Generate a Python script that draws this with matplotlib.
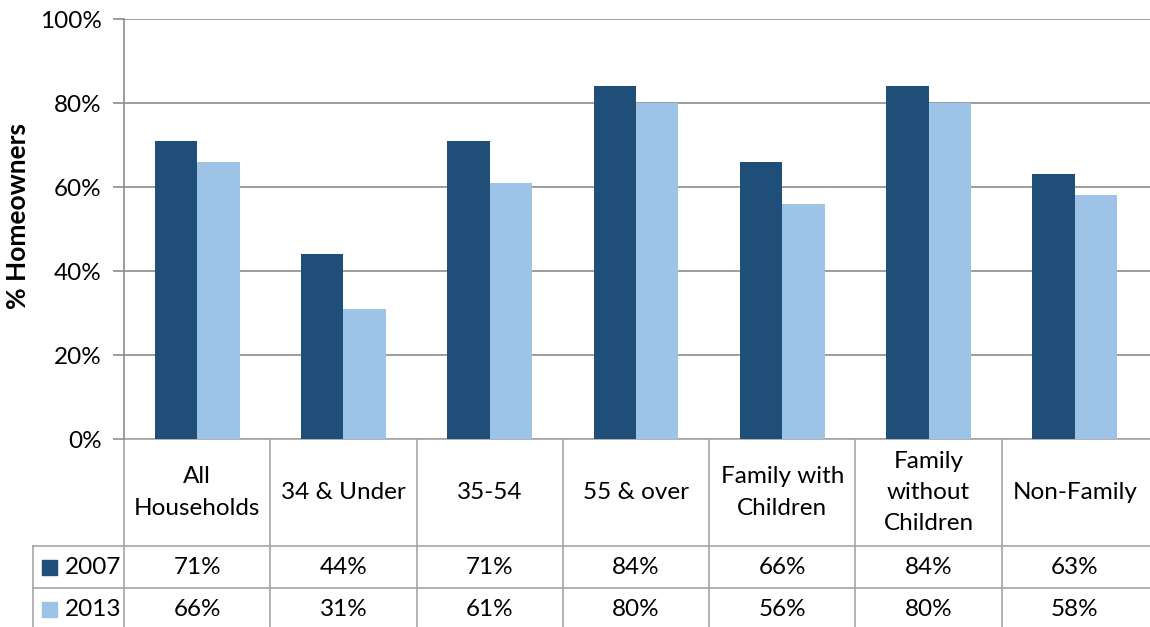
import matplotlib.pyplot as plt
import numpy as np
from matplotlib.lines import Line2D
from matplotlib.patches import Rectangle

plt.rcParams['font.family'] = ['Lato', 'DejaVu Sans']

categories = ["All\nHouseholds", "34 & Under", "35-54", "55 & over",
              "Family with\nChildren", "Family\nwithout\nChildren", "Non-Family"]
series_names = ["2007", "2013"]
values_2007 = [71, 44, 71, 84, 66, 84, 63]
values_2013 = [66, 31, 61, 80, 56, 80, 58]
yticks = [0, 20, 40, 60, 80, 100]

dark = "#1F4E79"
light = "#9DC3E6"
grid_col = "#8C8C8C"
table_col = "#A6A6A6"
fs = 17.5

fig = plt.figure(figsize=(11.5, 6.27), dpi=100)
W, H = 1150, 627
ax = fig.add_axes([124 / W, 1 - 439 / H, 1026 / W, 420 / H])

x = np.arange(len(categories))
bw = 0.29
ax.bar(x - bw / 2, values_2007, bw, color=dark, zorder=3)
ax.bar(x + bw / 2, values_2013, bw, color=light, zorder=3)

ax.set_xlim(-0.5, len(categories) - 0.5 + 2 / 146)
ax.set_ylim(0, 100)
ax.set_yticks(yticks)
ax.set_yticklabels([f"{t}%" for t in yticks], fontsize=fs)
ax.yaxis.grid(True, color=grid_col, linewidth=1.2, zorder=0)
ax.tick_params(axis="y", length=8, width=1.2, color=grid_col, pad=8)
ax.set_xticks([])
for side in ["top", "right", "bottom"]:
    ax.spines[side].set_visible(False)
ax.spines["left"].set_color(grid_col)
ax.spines["left"].set_linewidth(1.2)
ax.set_ylabel("% Homeowners", fontsize=19, fontweight="bold")
ax.yaxis.set_label_coords(-0.092, 0.53)

# data table under the axis
tr = ax.get_xaxis_transform()
row_h = 42 / 420
head_h = 107 / 420
y_head = -head_h
y_r1 = y_head - row_h
y_r2 = y_r1 - row_h
label_left = -0.5 - 91 / 146.3
right = len(categories) - 0.5 + 2 / 146

def hline(x0, x1, y):
    ax.add_line(Line2D([x0, x1], [y, y], transform=tr, color=table_col,
                       lw=1.2, clip_on=False))

def vline(xv, y0, y1):
    ax.add_line(Line2D([xv, xv], [y0, y1], transform=tr, color=table_col,
                       lw=1.2, clip_on=False))

# axis baseline with the 0% tick
hline(-0.5 - 8 / 146.3, right, 0)
hline(label_left, right, y_head)
hline(label_left, right, y_r1)
for b in np.arange(len(categories)) + 0.5:
    if b < len(categories) - 0.5:
        vline(b, 0, y_r2 - 0.05)
vline(-0.5, 0, y_r2 - 0.05)
vline(label_left, y_head, y_r2 - 0.05)

for i, cat in enumerate(categories):
    ax.text(i, y_head / 2, cat, transform=tr, ha="center", va="center",
            fontsize=fs, linespacing=1.6, clip_on=False)

for vals, y0, col, name in [(values_2007, y_head, dark, series_names[0]),
                            (values_2013, y_r1, light, series_names[1])]:
    yc = y0 - row_h / 2
    for i, v in enumerate(vals):
        ax.text(i, yc, f"{v}%", transform=tr, ha="center", va="center",
                fontsize=fs, clip_on=False)
    ax.add_patch(Rectangle((label_left + 9 / 146.3, yc - 7.5 / 420),
                           15 / 146.3, 15 / 420, transform=tr, color=col,
                           clip_on=False))
    ax.text(label_left + 32 / 146.3, yc, name, transform=tr, ha="left",
            va="center", fontsize=fs, clip_on=False)

fig.savefig("out.png", dpi=100)
